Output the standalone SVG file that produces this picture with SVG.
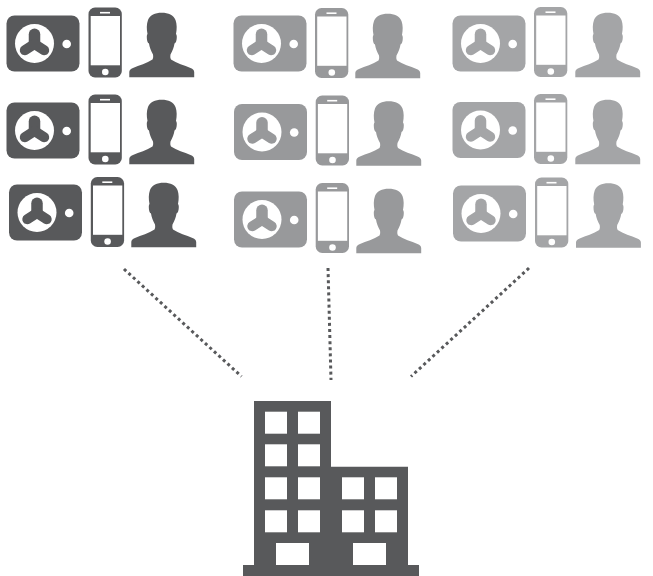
<svg xmlns="http://www.w3.org/2000/svg" width="653" height="576" viewBox="0 0 653 576">
<style>
.d{fill:#58595b;color:#58595b}
.l{fill:#98999b;color:#98999b}
.m{fill:#a4a5a7;color:#a4a5a7}
.c{fill:none;stroke:#58595b;stroke-width:3;stroke-dasharray:3 3.1}
.w{fill:#fff}
</style>
<defs>
<g id="panel">
<rect x="0.500" y="0.500" width="73" height="56" rx="8" fill="currentColor"/>
<circle cx="28.500" cy="28.500" r="19.500" class="w"/>
<path d="M28.500 29V19.200" fill="none" stroke="currentColor" stroke-width="11.500" stroke-linecap="round"/>
<path d="M28.500 29L18.800 35.200M28.500 29L38.200 35.200" fill="none" stroke="currentColor" stroke-width="10" stroke-linecap="round"/>
<circle cx="60.700" cy="29" r="4.300" class="w"/>
</g>
<g id="phone">
<rect x="0" y="0" width="33.300" height="70" rx="6.500" fill="currentColor"/>
<rect x="2.200" y="8.500" width="29.300" height="49.300" class="w"/>
<rect x="11.500" y="4.400" width="10" height="1.600" class="w"/>
<circle cx="16.800" cy="64.500" r="3.300" class="w"/>
</g>
<g id="person">
<path d="M0.300 65.300V60C0.300 58 1.500 57 4 56C10 53.500 18 51 23.500 47.500C24.300 46 24.300 44.500 24 42.500C22 39 20.500 35 20 31.500C18.500 31 17.800 28 17.800 25C17.800 23.500 18 22.500 18.500 22C17.500 17 17.500 12 19 8C21 3 26 0.700 32.700 0.700C39.500 0.700 44.500 3 46.500 8C48 12 48 17 47 22C47.500 22.500 47.800 23.500 47.800 25C47.800 28 47 31 45.500 31.500C45 35 43.500 39 41.500 42.500C41.200 44.500 41.200 46 42 47.500C47.500 51 55.500 53.500 61.500 56C64 57 65.200 58 65.200 60V65.300Z" fill="currentColor"/>
</g>
</defs>
<g id="c1r1" class="d"><use href="#panel" x="6" y="15"/><use href="#phone" x="88.500" y="7.500"/><use href="#person" x="129" y="12"/></g>
<g id="c1r2" class="d"><use href="#panel" x="6" y="102"/><use href="#phone" x="88.500" y="94.500"/><use href="#person" x="129" y="99"/></g>
<g id="c1r3" class="d"><use href="#panel" x="8.500" y="184"/><use href="#phone" x="90.800" y="177"/><use href="#person" x="131" y="182"/></g>
<g id="c2r1" class="l"><use href="#panel" x="233" y="15"/><use href="#phone" x="315" y="8"/><use href="#person" x="355" y="13"/></g>
<g id="c2r2" class="l"><use href="#panel" x="233.500" y="103.500"/><use href="#phone" x="315.700" y="95.500"/><use href="#person" x="356" y="100.500"/></g>
<g id="c2r3" class="l"><use href="#panel" x="233.500" y="191"/><use href="#phone" x="315.700" y="183"/><use href="#person" x="356" y="188"/></g>
<g id="c3r1" class="m"><use href="#panel" x="452" y="15"/><use href="#phone" x="534" y="7"/><use href="#person" x="575" y="12"/></g>
<g id="c3r2" class="m"><use href="#panel" x="452" y="101.500"/><use href="#phone" x="534" y="94"/><use href="#person" x="575" y="99"/></g>
<g id="c3r3" class="m"><use href="#panel" x="452.500" y="185"/><use href="#phone" x="535" y="177.500"/><use href="#person" x="575.700" y="182.500"/></g>
<g id="connectors">
<path class="c" d="M124 269L241.500 376.500"/>
<path class="c" d="M328 268L331 380"/>
<path class="c" d="M529 268L411 376.500"/>
</g>
<g id="building">
<path class="d" d="M254 401H331V466.700H408V565H419V576H243V565H254Z"/>
<g class="w">
<rect x="265" y="411.700" width="22" height="22"/><rect x="298" y="411.700" width="22" height="22"/>
<rect x="265" y="444.300" width="22" height="22"/><rect x="298" y="444.300" width="22" height="22"/>
<rect x="265" y="477.300" width="22" height="22"/><rect x="298" y="477.300" width="22" height="22"/>
<rect x="265" y="510.300" width="22" height="22"/><rect x="298" y="510.300" width="22" height="22"/>
<rect x="342" y="477.300" width="22" height="22"/><rect x="375" y="477.300" width="22" height="22"/>
<rect x="342" y="510.300" width="22" height="22"/><rect x="375" y="510.300" width="22" height="22"/>
<rect x="276" y="543" width="33" height="22"/><rect x="353" y="543" width="33" height="22"/>
</g>
</g>
</svg>
